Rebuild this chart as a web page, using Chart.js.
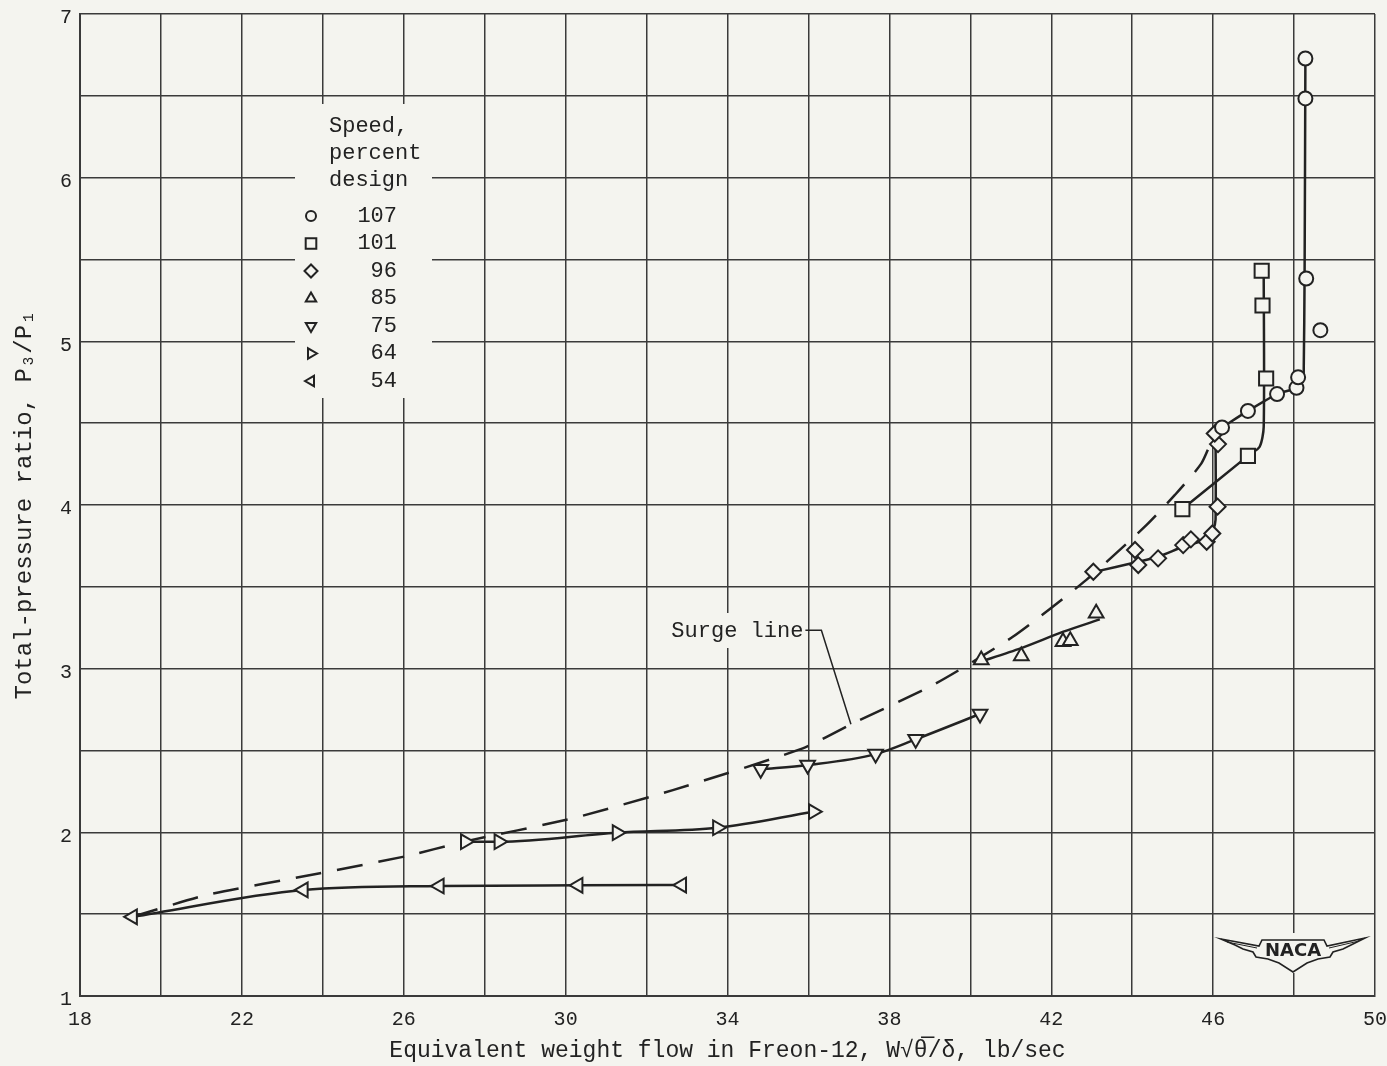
<!DOCTYPE html>
<html>
<head>
<meta charset="utf-8">
<title>Total-pressure ratio vs equivalent weight flow</title>
<script src="https://cdn.jsdelivr.net/npm/chart.js@4.4.1/dist/chart.umd.min.js"></script>
<style>
  html, body { margin: 0; padding: 0; background: #f4f4ef; }
  #wrap { width: 1387px; height: 1066px; }
</style>
</head>
<body>
<div id="wrap"><canvas id="chart" width="1387" height="1066"></canvas></div>
<script>
// tick labels
const xLabels = [18, 22, 26, 30, 34, 38, 42, 46, 50];
const yLabels = [1, 2, 3, 4, 5, 6, 7];

// speed, percent design
const speeds = ['107', '101', '96', '85', '75', '64', '54'];

// measured points (equivalent weight flow, lb/sec ; total-pressure ratio)
const flow107 = [46.22, 46.86, 47.58, 48.06, 48.10, 48.30, 48.28, 48.28, 48.65];
const ratio107 = [4.474, 4.575, 4.678, 4.716, 4.78, 5.384, 6.484, 6.728, 5.068];

const flow101 = [45.24, 46.86, 47.31, 47.22, 47.20];
const ratio101 = [3.975, 4.30, 4.773, 5.219, 5.431];

const flow96 = [43.04, 44.07, 44.15, 44.64, 45.26, 45.45, 45.84, 45.98, 46.11, 46.12, 46.04];
const ratio96 = [3.592, 3.725, 3.633, 3.674, 3.755, 3.79, 3.775, 3.826, 3.99, 4.372, 4.437];

const flow85 = [40.27, 41.26, 42.29, 42.47, 43.11];
const ratio85 = [3.053, 3.077, 3.164, 3.17, 3.338];

const flow75 = [34.82, 35.98, 37.66, 38.65, 40.24];
const ratio75 = [2.385, 2.411, 2.478, 2.568, 2.723];

const flow64 = [27.52, 28.35, 31.27, 33.75, 36.12];
const ratio64 = [1.943, 1.943, 1.998, 2.028, 2.126];

const flow54 = [19.30, 23.52, 26.88, 30.31, 32.87];
const ratio54 = [1.484, 1.648, 1.672, 1.676, 1.678];

// faired curves
const curveFlow107 = [46.22, 46.86, 47.58, 48.06, 48.22, 48.24, 48.26, 48.28];
const curveRatio107 = [4.474, 4.575, 4.678, 4.716, 4.77, 4.85, 5.4, 6.73];

const curveFlow101 = [45.24, 46.86, 47.15, 47.25, 47.25];
const curveRatio101 = [3.975, 4.30, 4.356, 4.478, 5.43];

const curveFlow96 = [43.04, 44.15, 44.64, 45.26, 45.88, 46.0, 46.06, 46.06];
const curveRatio96 = [3.59, 3.653, 3.684, 3.745, 3.796, 3.847, 3.91, 4.44];

const curveFlow85 = [40.2, 41.24, 42.3, 43.2];
const curveRatio85 = [3.038, 3.124, 3.226, 3.301];

// surge line
const surgeFlow = [19.30, 21.13, 23.93, 26.07, 27.44, 30.18, 32.65, 35.86, 37.01, 39.15, 41.05, 42.86, 44.35, 45.05, 45.71, 46.04];
const surgeRatio = [1.484, 1.617, 1.75, 1.855, 1.94, 2.086, 2.258, 2.513, 2.655, 2.91, 3.195, 3.541, 3.877, 4.06, 4.254, 4.44];

const paper = '#f4f4ef';
const ink = '#222222';
const mono = '"Liberation Mono", "DejaVu Sans Mono", monospace';

const pts = (xs, ys) => xs.map((x, i) => ({ x: x, y: ys[i] }));

const markerStyles = {
    '107': { pointStyle: 'circle', rotation: 0, radius: 7, legendRadius: 5 },
    '101': { pointStyle: 'rect', rotation: 0, radius: 10, legendRadius: 7.5 },
    '96': { pointStyle: 'rectRot', rotation: 0, radius: 8, legendRadius: 6.5 },
    '85': { pointStyle: 'triangle', rotation: 0, radius: 8.5, legendRadius: 6 },
    '75': { pointStyle: 'triangle', rotation: 180, radius: 8.5, legendRadius: 6 },
    '64': { pointStyle: 'triangle', rotation: 90, radius: 8.5, legendRadius: 6 },
    '54': { pointStyle: 'triangle', rotation: 270, radius: 8.5, legendRadius: 6 }
};

function markerSet(speed, xs, ys, withLine) {
    const m = markerStyles[speed];
    return {
        label: speed,
        data: pts(xs, ys),
        showLine: withLine,
        borderColor: ink,
        borderWidth: 2.5,
        cubicInterpolationMode: 'monotone',
        pointStyle: m.pointStyle,
        rotation: m.rotation,
        pointRadius: m.radius,
        pointBorderWidth: 2,
        pointBorderColor: ink,
        pointBackgroundColor: paper,
        order: 0
    };
}

function curveSet(label, xs, ys) {
    return {
        label: label,
        data: pts(xs, ys),
        showLine: true,
        borderColor: ink,
        borderWidth: 2.5,
        tension: 0.25,
        pointRadius: 0,
        order: 1
    };
}

const datasets = [
    markerSet('107', flow107, ratio107, false),
    markerSet('101', flow101, ratio101, false),
    markerSet('96', flow96, ratio96, false),
    markerSet('85', flow85, ratio85, false),
    markerSet('75', flow75, ratio75, true),
    markerSet('64', flow64, ratio64, true),
    markerSet('54', flow54, ratio54, true),
    curveSet('c107', curveFlow107, curveRatio107),
    curveSet('c101', curveFlow101, curveRatio101),
    curveSet('c96', curveFlow96, curveRatio96),
    curveSet('c85', curveFlow85, curveRatio85),
    {
        label: 'Surge line',
        data: pts(surgeFlow, surgeRatio),
        showLine: true,
        borderColor: ink,
        borderWidth: 2.5,
        borderDash: [26, 16],
        tension: 0.2,
        pointRadius: 0,
        order: 2
    }
];

// paper background
const paperPlugin = {
    id: 'paper',
    beforeDraw(chart) {
        const ctx = chart.ctx;
        ctx.save();
        ctx.fillStyle = paper;
        ctx.fillRect(0, 0, chart.width, chart.height);
        ctx.restore();
    }
};

// blank patches over the grid for the legend, label and emblem
const patchPlugin = {
    id: 'patches',
    beforeDatasetsDraw(chart) {
        const ctx = chart.ctx;
        ctx.save();
        ctx.fillStyle = paper;
        ctx.fillRect(295, 104, 137, 294);
        ctx.fillRect(660, 613, 146, 35);
        ctx.fillRect(1218, 933, 150, 40);
        ctx.restore();
    }
};

// legend, surge label and NACA emblem
const notesPlugin = {
    id: 'notes',
    afterDraw(chart) {
        const ctx = chart.ctx;
        const xs = chart.scales.x, ys = chart.scales.y;
        ctx.save();
        ctx.fillStyle = ink;
        ctx.strokeStyle = ink;
        ctx.font = '22px ' + mono;
        ctx.textBaseline = 'middle';
        ctx.textAlign = 'left';
        ctx.fillText('Speed,', 329, 126);
        ctx.fillText('percent', 329, 153);
        ctx.fillText('design', 329, 180);

        ctx.textAlign = 'right';
        speeds.forEach((s, i) => {
            const y = 216 + i * 27.5;
            ctx.fillStyle = ink;
            ctx.fillText(s, 397, y);
            const m = markerStyles[s];
            ctx.fillStyle = paper;
            ctx.lineWidth = 2;
            Chart.helpers.drawPoint(ctx, {
                pointStyle: m.pointStyle, rotation: m.rotation,
                radius: m.legendRadius, borderWidth: 2
            }, 311, y);
        });

        // surge line label with leader
        const ex = xs.getPixelForValue(37.05), ey = ys.getPixelForValue(2.66);
        const kx = xs.getPixelForValue(36.32), ky = ys.getPixelForValue(3.235);
        ctx.fillStyle = ink;
        ctx.textAlign = 'right';
        ctx.fillText('Surge line', kx - 18, ky + 1);
        ctx.lineWidth = 1.5;
        ctx.beginPath();
        ctx.moveTo(kx - 16, ky);
        ctx.lineTo(kx, ky);
        ctx.lineTo(ex, ey);
        ctx.stroke();

        // NACA wings
        const cx = 1293, cy = 950;
        const wing = [[-72, -11], [-34, -4], [-31, -10], [31, -10], [34, -4], [72, -12],
            [58, -5], [50, -1], [40, 2], [37, 7], [25, 9], [14, 13], [0, 22],
            [-14, 13], [-25, 9], [-37, 7], [-40, 2], [-50, -1], [-58, -5]];
        ctx.beginPath();
        wing.forEach((p, i) => {
            if (i === 0) ctx.moveTo(cx + p[0], cy + p[1]);
            else ctx.lineTo(cx + p[0], cy + p[1]);
        });
        ctx.closePath();
        ctx.fillStyle = paper;
        ctx.fill();
        ctx.lineWidth = 1.6;
        ctx.stroke();
        ctx.beginPath();
        ctx.moveTo(cx - 66, cy - 8);
        ctx.lineTo(cx - 36, cy - 2);
        ctx.moveTo(cx + 66, cy - 9);
        ctx.lineTo(cx + 36, cy - 2);
        ctx.lineWidth = 1;
        ctx.stroke();
        ctx.fillStyle = ink;
        ctx.textAlign = 'center';
        ctx.font = 'bold 18px "DejaVu Sans", sans-serif';
        ctx.fillText('NACA', cx, cy + 1);
        ctx.restore();
    }
};

const ctx = document.getElementById('chart').getContext('2d');
new Chart(ctx, {
    type: 'scatter',
    data: { datasets: datasets },
    options: {
        responsive: false,
        animation: false,
        events: [],
        layout: { padding: { top: 14, right: 11, left: 0, bottom: 0 } },
        plugins: {
            legend: { display: false },
            tooltip: { enabled: false }
        },
        scales: {
            x: {
                type: 'linear',
                min: 18,
                max: 50,
                afterFit(scale) {
                    scale.height = 70;
                    scale.paddingLeft = 0;
                    scale.paddingRight = 0;
                },
                grid: { color: '#3a3a3a', lineWidth: 1.5, drawTicks: false },
                border: { color: '#3a3a3a', width: 2 },
                ticks: {
                    stepSize: 2,
                    padding: 12,
                    color: ink,
                    font: { family: mono, size: 20 },
                    maxRotation: 0,
                    autoSkip: false,
                    callback: (v) => xLabels.includes(v) ? String(v) : ''
                },
                title: {
                    display: true,
                    text: 'Equivalent weight flow in Freon-12, W\u221A\u03B8\u0305/\u03B4, lb/sec',
                    color: ink,
                    font: { family: mono, size: 23 },
                    padding: { top: 0, bottom: 1 }
                }
            },
            y: {
                type: 'linear',
                min: 1,
                max: 7,
                afterFit(scale) {
                    scale.width = 80;
                    scale.paddingTop = 0;
                    scale.paddingBottom = 0;
                },
                grid: { color: '#3a3a3a', lineWidth: 1.5, drawTicks: false },
                border: { color: '#3a3a3a', width: 2 },
                ticks: {
                    stepSize: 0.5,
                    padding: 8,
                    labelOffset: 4,
                    color: ink,
                    font: { family: mono, size: 20 },
                    autoSkip: false,
                    callback: (v) => yLabels.includes(v) ? String(v) : ''
                },
                title: {
                    display: true,
                    text: 'Total-pressure ratio, P\u2083/P\u2081',
                    color: ink,
                    font: { family: mono, size: 24 },
                    padding: { top: 10, bottom: 0 }
                }
            }
        }
    },
    plugins: [paperPlugin, patchPlugin, notesPlugin]
});
</script>
</body>
</html>
